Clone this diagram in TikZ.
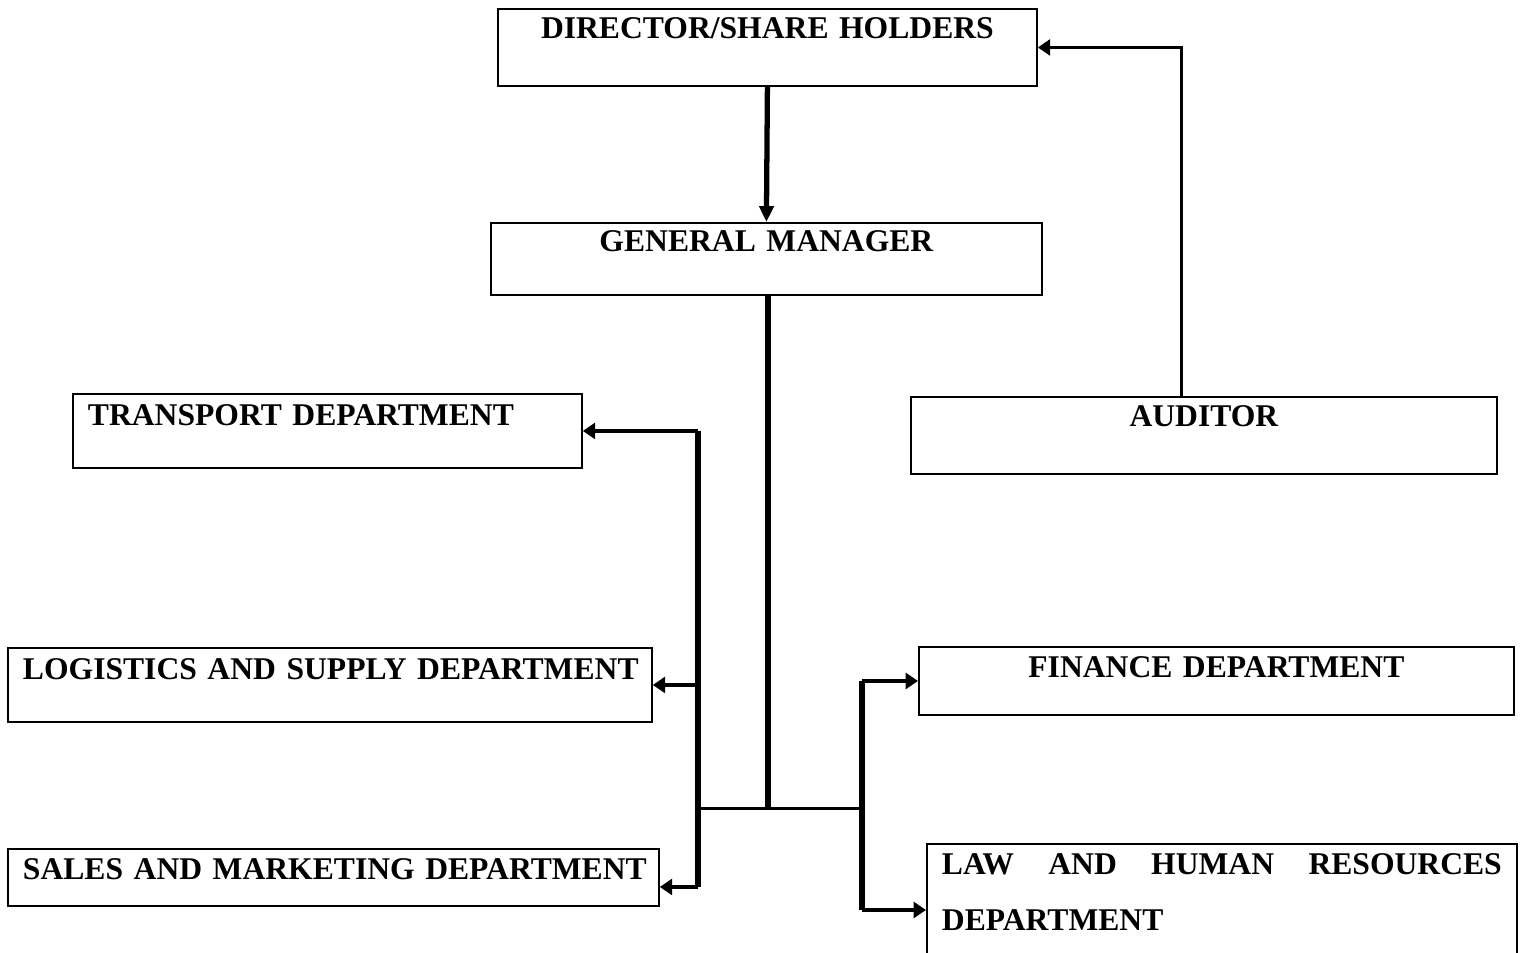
\documentclass[tikz,border=0pt]{standalone}
\usepackage{fontspec}
\setmainfont{Liberation Serif}
\usetikzlibrary{arrows.meta,positioning}

\tikzset{
  px/.style={x=0.02cm,y=-0.02cm},
  dept/.style={draw, line width=1.1pt, rectangle, anchor=north west,
    inner xsep=0.3cm, inner ysep=0pt,
    font=\bfseries\fontsize{18}{31.8}\selectfont},
  link/.style={line width=2pt, -{Triangle[length=7pt,width=9pt]}},
  trunk/.style={line width=3.4pt},
  rail/.style={line width=1.7pt},
}

\begin{document}
\begin{tikzpicture}[px]
	\useasboundingbox (0,0) rectangle (1525,953);
	\clip (0,0) rectangle (1525,953);
	% boxes
	\node[dept, text width=10.18cm, align=center, text height=0.6cm, text depth=0.94cm] (dir) at (497,8) {DIRECTOR/SHARE HOLDERS};
	\node[dept, text width=10.42cm, align=center, text height=0.58cm, text depth=0.86cm] (gm) at (490,222) {GENERAL MANAGER};
	\node[dept, text width=9.58cm, align=left, text height=0.64cm, text depth=0.84cm] (trans) at (72,393) {TRANSPORT DEPARTMENT};
	\node[dept, text width=11.12cm, align=center, text height=0.6cm, text depth=0.94cm] (aud) at (910,396) {AUDITOR};
	\node[dept, text width=12.28cm, align=left, text height=0.64cm, text depth=0.84cm] (logi) at (7,647) {\mbox{LOGISTICS AND SUPPLY DEPARTMENT}};
	\node[dept, text width=11.3cm, align=center, text height=0.62cm, text depth=0.74cm] (fin) at (918,646) {FINANCE DEPARTMENT};
	\node[dept, text width=12.42cm, align=left, text height=0.62cm, text depth=0.52cm] (sales) at (7,848) {\mbox{SALES AND MARKETING DEPARTMENT}};
	\node[dept, text width=11.2cm, align=justify, text height=0.62cm, text depth=2.4cm] (law) at (926,843) {LAW AND HUMAN RESOURCES \mbox{DEPARTMENT}};
	% top links
	\draw[link, line width=3pt, -{Triangle[length=9pt,width=8pt]}] (dir.south) -- (gm.north);
	\draw[link, line width=1.7pt] ([xshift=-0.44cm]aud.north) |- (dir.east);
	% branches
	\coordinate (hub) at (768,808);
	\coordinate (lbus) at (698,808);
	\coordinate (rbus) at (862,808);
	\draw[trunk] (gm.south -| hub) -- (hub);
	\draw[rail] (lbus) -- (rbus);
	\draw[trunk] (lbus |- trans.east) -- ([yshift=-0.19cm]lbus |- sales.east);
	\draw[trunk] (rbus |- fin.west) -- ([yshift=-1.34cm]rbus |- law.north);
	\draw[link] (lbus |- trans.east) -- (trans.east);
	\draw[link] (lbus |- logi.east) -- (logi.east);
	\draw[link] ([yshift=-0.19cm]lbus |- sales.east) -- ([yshift=-0.19cm]sales.east);
	\draw[link] (rbus |- fin.west) -- (fin.west);
	\draw[link] ([yshift=-1.34cm]rbus |- law.north) -- ([yshift=-1.34cm]law.north west);
\end{tikzpicture}
\end{document}
